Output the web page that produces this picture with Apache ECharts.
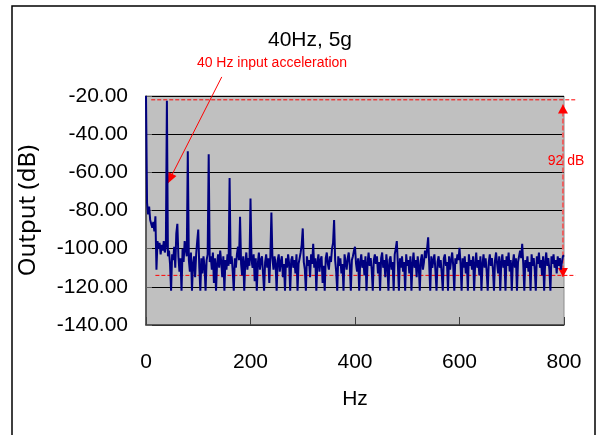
<!DOCTYPE html>
<html>
<head>
<meta charset="utf-8">
<script src="https://cdn.jsdelivr.net/npm/echarts@6/dist/echarts.min.js"></script>
<style>
  html, body { margin: 0; padding: 0; background: #fff; }
  #chart { width: 599px; height: 435px; }
</style>
</head>
<body>
<div id="chart"></div>
<script>
// spectrum bins, 2 Hz apart, 0..800 Hz
const binHz = 2;
const outputDb = [
  -20, -76, -82, -78, -85, -84, -89, -86, -91, -83, -111, -96, -100, -97, -103, -98, -101, -96, -102, -99,
  -22.5, -104, -101, -108, -122, -103, -106, -99, -110, -92, -87, -104, -112, -105, -122, -100, -107, -96, -95, -104,
  -49, -106, -112, -102, -122, -108, -104, -115, -103, -96, -90, -110, -122, -105, -113, -104, -109, -122, -106, -103,
  -50.5, -107, -104, -111, -102, -118, -105, -122, -108, -103, -110, -101, -107, -115, -104, -122, -106, -111, -103, -109,
  -63, -108, -104, -112, -122, -105, -110, -103, -99, -106, -83.3, -108, -114, -104, -122, -107, -102, -111, -105, -109,
  -73.7, -106, -110, -103, -117, -105, -122, -108, -102, -111, -106, -104, -113, -122, -107, -103, -110, -105, -118, -104,
  -81, -105, -111, -104, -108, -122, -106, -103, -112, -107, -104, -115, -108, -122, -105, -110, -103, -108, -122, -106,
  -104, -110, -106, -113, -103, -122, -108, -105, -102, -98, -89.4, -107, -111, -122, -104, -109, -106, -115, -103, -108,
  -97.5, -110, -105, -122, -107, -103, -112, -106, -104, -118, -109, -122, -105, -102, -108, -111, -104, -107, -100, -97,
  -85, -106, -112, -122, -104, -109, -105, -113, -108, -122, -103, -107, -111, -105, -102, -109, -122, -106, -104, -101,
  -99, -108, -112, -105, -122, -107, -103, -110, -106, -114, -104, -122, -108, -102, -109, -105, -111, -122, -106, -103,
  -108, -104, -113, -107, -122, -105, -102, -110, -106, -115, -103, -109, -122, -106, -104, -111, -107, -122, -103, -100,
  -96, -108, -122, -105, -110, -104, -112, -107, -122, -103, -109, -106, -113, -104, -122, -108, -102, -110, -106, -115,
  -104, -109, -122, -106, -103, -111, -107, -101, -105, -100, -94, -108, -122, -104, -110, -106, -103, -112, -122, -107,
  -104, -110, -106, -113, -122, -105, -103, -109, -107, -122, -104, -111, -106, -102, -109, -122, -105, -108, -103, -106,
  -99.5, -108, -122, -105, -110, -104, -113, -107, -122, -103, -109, -106, -111, -104, -122, -108, -102, -110, -106, -114,
  -104, -122, -108, -103, -110, -105, -112, -122, -107, -103, -109, -105, -111, -122, -106, -102, -108, -113, -104, -122,
  -107, -103, -110, -106, -122, -104, -109, -102, -112, -106, -122, -108, -103, -110, -105, -122, -107, -104, -101, -105,
  -97.5, -108, -122, -106, -110, -104, -112, -107, -122, -103, -109, -105, -111, -122, -104, -108, -102, -110, -106, -114,
  -104, -122, -107, -102, -109, -105, -111, -122, -104, -108, -103, -110, -106, -113, -104, -109, -105, -111, -107, -104,
  -103.5
];

// axes
const xRange = [0, 800];
const xStep = 200;
const yRange = [-140, -20];
const yStep = 20;

// annotations (Hz, dB)
const refTopLine = [[10, -22], [824, -22]];
const refFloorLine = [[18, -114], [822, -114]];
const spanArrow = [[798, -24.5], [798, -114.8]];
const calloutArrow = [[145, -10], [41, -66]];

const chart = echarts.init(document.getElementById('chart'));

const red = '#ff0000';
const lblFont = 'Arial, "Liberation Sans", sans-serif';

chart.setOption({
  animation: false,
  title: {
    text: '40Hz, 5g',
    left: 305,
    top: 25,
    textAlign: 'center',
    textStyle: { fontFamily: lblFont, fontSize: 21, fontWeight: 'normal', color: '#000' },
  },
  grid: {
    left: 146,
    right: 35,
    top: 96,
    bottom: 110,
    show: true,
    backgroundColor: '#c0c0c0',
    borderColor: '#8c8c8c',
    borderWidth: 1,
  },
  xAxis: {
    type: 'value',
    min: xRange[0],
    max: xRange[1],
    interval: xStep,
    name: 'Hz',
    nameLocation: 'middle',
    nameGap: 64,
    nameTextStyle: { fontFamily: lblFont, fontSize: 21, color: '#000' },
    axisLine: { lineStyle: { color: '#404040', width: 1.5 } },
    axisTick: { inside: true, length: 8, lineStyle: { color: '#404040', width: 1 } },
    axisLabel: { margin: 27, fontFamily: lblFont, fontSize: 21, color: '#000' },
    splitLine: { show: false },
  },
  yAxis: {
    type: 'value',
    min: yRange[0],
    max: yRange[1],
    interval: yStep,
    name: 'Output (dB)',
    nameLocation: 'middle',
    nameRotate: 90,
    nameGap: 106,
    nameTextStyle: { fontFamily: '"Noto Sans", "Open Sans", sans-serif', fontSize: 24, color: '#000' },
    axisLine: { show: true, lineStyle: { color: '#404040', width: 1.5 } },
    axisTick: { show: true, inside: true, length: 6, lineStyle: { color: '#606060' } },
    axisLabel: {
      margin: 18,
      fontFamily: lblFont,
      fontSize: 21,
      color: '#000',
      formatter: (v) => v.toFixed(2),
    },
    splitLine: { show: true, lineStyle: { color: '#000', width: 1 } },
  },
  series: [
    {
      name: 'output',
      type: 'line',
      showSymbol: false,
      lineStyle: { color: '#000080', width: 2 },
      itemStyle: { color: '#000080' },
      data: outputDb.map((v, i) => [i * binHz, v]),
    },
  ],
});

// annotation lines go past the plot edges, so place them as graphics
// from the axis scales
const toPx = (p) => chart.convertToPixel({ gridIndex: 0 }, p);

// filled triangle with its tip on `tip`, pointing away from `from`
const arrowHead = (tip, from, len, half) => {
  const dx = tip[0] - from[0];
  const dy = tip[1] - from[1];
  const d = Math.sqrt(dx * dx + dy * dy);
  const ux = dx / d;
  const uy = dy / d;
  const bx = tip[0] - ux * len;
  const by = tip[1] - uy * len;
  return [tip, [bx - uy * half, by + ux * half], [bx + uy * half, by - ux * half]];
};

const lineEl = (a, b, style) => ({
  type: 'line',
  silent: true,
  shape: { x1: a[0], y1: a[1], x2: b[0], y2: b[1] },
  style: Object.assign({ stroke: red, lineWidth: 1 }, style),
});

const headEl = (pts) => ({
  type: 'polygon',
  silent: true,
  shape: { points: pts },
  style: { fill: red },
});

const topA = toPx(refTopLine[0]);
const topB = toPx(refTopLine[1]);
const flA = toPx(refFloorLine[0]);
const flB = toPx(refFloorLine[1]);
const spA = toPx(spanArrow[0]);
const spB = toPx(spanArrow[1]);
const coA = toPx(calloutArrow[0]);
const coB = toPx(calloutArrow[1]);

chart.setOption({
  graphic: [
    {
      type: 'rect',
      silent: true,
      shape: { x: 12, y: 6, width: 583, height: 445 },
      style: { fill: 'none', stroke: '#000', lineWidth: 1.5 },
    },
    lineEl(topA, topB, { lineDash: [4, 2] }),
    lineEl(flA, flB, { lineDash: [4, 2] }),
    lineEl(spA, spB, { stroke: '#ea6060', lineWidth: 2, lineDash: [5, 2] }),
    headEl(arrowHead(spA, spB, 9, 5)),
    headEl(arrowHead(spB, spA, 9, 5)),
    lineEl(coA, coB, {}),
    headEl(arrowHead(coB, coA, 11, 4.5)),
    {
      type: 'text',
      silent: true,
      x: 272,
      y: 63,
      style: {
        text: '40 Hz input acceleration',
        fill: red,
        font: '14px Arial, "Liberation Sans", sans-serif',
        align: 'center',
        verticalAlign: 'middle',
      },
    },
    {
      type: 'text',
      silent: true,
      x: 566,
      y: 161,
      style: {
        text: '92 dB',
        fill: red,
        font: '14px Arial, "Liberation Sans", sans-serif',
        align: 'center',
        verticalAlign: 'middle',
      },
    },
  ],
});
</script>
</body>
</html>
